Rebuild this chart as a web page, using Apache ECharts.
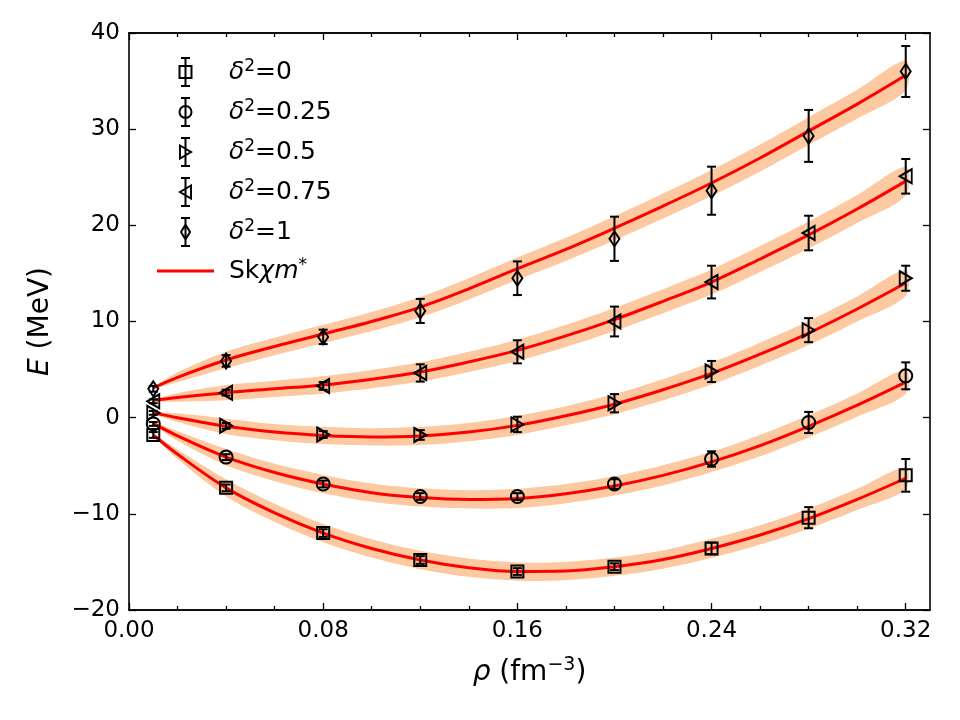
<!DOCTYPE html>
<html>
<head>
<meta charset="utf-8">
<script src="https://cdn.jsdelivr.net/npm/echarts@6/dist/echarts.min.js"></script>
<style>
  html, body { margin: 0; padding: 0; background: #fff; }
  #chart { width: 960px; height: 720px; }
</style>
</head>
<body>
<div id="chart"></div>
<script>
// measured points (rho in fm^-3, E in MeV)
var rho = [0.01, 0.04, 0.08, 0.12, 0.16, 0.20, 0.24, 0.28, 0.32];

var groupNames = ['δ²=0', 'δ²=0.25', 'δ²=0.5', 'δ²=0.75', 'δ²=1'];

var E_d0 = [-1.8, -7.3, -12.0, -14.8, -16.0, -15.5, -13.6, -10.4, -6.0];
var err_d0 = [0.3, 0.35, 0.4, 0.4, 0.35, 0.35, 0.6, 1.1, 1.7];

var E_d25 = [-0.65, -4.1, -6.9, -8.2, -8.2, -6.9, -4.3, -0.5, 4.35];
var err_d25 = [0.2, 0.3, 0.35, 0.35, 0.35, 0.5, 0.8, 1.1, 1.4];

var E_d50 = [0.5, -0.85, -1.75, -1.8, -0.7, 1.5, 4.8, 9.1, 14.5];
var err_d50 = [0.2, 0.3, 0.35, 0.5, 0.8, 0.95, 1.1, 1.25, 1.3];

var E_d75 = [1.7, 2.6, 3.3, 4.65, 6.85, 10.0, 14.1, 19.2, 25.1];
var err_d75 = [0.2, 0.3, 0.4, 0.9, 1.2, 1.55, 1.7, 1.8, 1.8];

var E_d100 = [3.0, 5.9, 8.4, 11.1, 14.5, 18.6, 23.6, 29.3, 36.0];
var err_d100 = [0.3, 0.6, 0.75, 1.25, 1.75, 2.3, 2.5, 2.7, 2.65];

// Skχm* curves with their uncertainty band (half width)
var fitRho = [0.01, 0.02, 0.04, 0.06, 0.08, 0.10, 0.12, 0.14, 0.16, 0.18, 0.20, 0.22, 0.24, 0.26, 0.28, 0.30, 0.32];

var fit_d0 = [-1.8, -3.8, -7.3, -9.9, -12.0, -13.6, -14.8, -15.6, -16.0, -15.95, -15.5, -14.75, -13.6, -12.2, -10.5, -8.5, -6.3];
var fit_d25 = [-0.6, -1.9, -4.1, -5.7, -6.9, -7.8, -8.3, -8.5, -8.4, -7.9, -7.1, -6.0, -4.6, -2.9, -0.9, 1.3, 3.7];
var fit_d50 = [0.5, 0.0, -0.9, -1.5, -1.85, -2.0, -1.9, -1.5, -0.8, 0.2, 1.4, 2.9, 4.6, 6.6, 8.8, 11.3, 14.0];
var fit_d75 = [1.8, 2.1, 2.6, 3.0, 3.4, 4.0, 4.75, 5.8, 7.0, 8.5, 10.2, 12.1, 14.1, 16.5, 19.0, 21.7, 24.6];
var fit_d100 = [3.1, 4.2, 6.0, 7.4, 8.7, 10.0, 11.5, 13.4, 15.5, 17.5, 19.7, 22.0, 24.4, 27.0, 29.8, 32.6, 35.6];

var band_d0 = [0.1, 0.5, 0.9, 0.95, 0.95, 0.95, 0.95, 0.95, 0.95, 0.95, 0.95, 0.95, 1.0, 1.0, 1.05, 1.1, 1.15];
var band_d25 = [0.1, 0.5, 0.85, 0.9, 0.95, 0.95, 0.95, 0.95, 1.0, 1.0, 1.0, 1.05, 1.05, 1.1, 1.15, 1.2, 1.25];
var band_d50 = [0.1, 0.45, 0.8, 0.85, 0.9, 0.9, 0.95, 0.95, 1.0, 1.0, 1.05, 1.1, 1.15, 1.2, 1.25, 1.3, 1.35];
var band_d75 = [0.1, 0.45, 0.8, 0.85, 0.9, 0.95, 1.0, 1.05, 1.1, 1.15, 1.2, 1.25, 1.3, 1.35, 1.4, 1.45, 1.5];
var band_d100 = [0.1, 0.5, 0.85, 0.9, 0.95, 1.0, 1.05, 1.1, 1.15, 1.2, 1.25, 1.3, 1.35, 1.4, 1.45, 1.5, 1.55];

var xMajor = [0, 0.08, 0.16, 0.24, 0.32];
var xMinor = [0.02, 0.04, 0.06, 0.10, 0.12, 0.14, 0.18, 0.20, 0.22, 0.26, 0.28, 0.30];

var fitName = 'Skχm*';
var FONT = 'DejaVu Sans';

var pointSets = [
    { E: E_d0, err: err_d0, fit: fit_d0, band: band_d0 },
    { E: E_d25, err: err_d25, fit: fit_d25, band: band_d25 },
    { E: E_d50, err: err_d50, fit: fit_d50, band: band_d50 },
    { E: E_d75, err: err_d75, fit: fit_d75, band: band_d75 },
    { E: E_d100, err: err_d100, fit: fit_d100, band: band_d100 }
];

var markerSymbols = [
    { symbol: 'rect', size: 12 },
    { symbol: 'circle', size: 13 },
    { symbol: 'path://M0,0L10,6L0,12Z', size: [12, 14] },
    { symbol: 'path://M10,0L0,6L10,12Z', size: [12, 14] },
    { symbol: 'diamond', size: [10, 15] }
];

// legend icons: marker + errorbar
var bar = ' M6,0V28 M1.5,0H10.5 M1.5,28H10.5';
var legendIcons = [
    'path://M0,8H12V20H0Z' + bar,
    'path://M0,14A6,6 0 1 1 12,14A6,6 0 1 1 0,14Z' + bar,
    'path://M0.5,7.5L11.5,14L0.5,20.5Z' + bar,
    'path://M11.5,7.5L0.5,14L11.5,20.5Z' + bar,
    'path://M6,6.5L10.5,14L6,21.5L1.5,14Z' + bar
];

var BAND_COLOR = '#fcc9a1';
var LINE_COLOR = '#ff0000';

function pairs(xs, ys) {
    return xs.map(function (x, i) { return [x, ys[i]]; });
}

function errorBarRender(params, api) {
    var x = api.value(0);
    var y = api.value(1);
    var e = api.value(2);
    var top = api.coord([x, y + e]);
    var bot = api.coord([x, y - e]);
    var cap = 4.5;
    var style = { stroke: '#000', lineWidth: 2 };
    return {
        type: 'group',
        children: [
            { type: 'line', shape: { x1: top[0], y1: top[1], x2: bot[0], y2: bot[1] }, style: style },
            { type: 'line', shape: { x1: top[0] - cap, y1: top[1], x2: top[0] + cap, y2: top[1] }, style: style },
            { type: 'line', shape: { x1: bot[0] - cap, y1: bot[1], x2: bot[0] + cap, y2: bot[1] }, style: style }
        ]
    };
}

function bandRender(s) {
    return function (params, api) {
        var upper = [];
        var lower = [];
        for (var i = 0; i < fitRho.length; i++) {
            upper.push(api.coord([fitRho[i], s.fit[i] + s.band[i]]));
            lower.push(api.coord([fitRho[i], s.fit[i] - s.band[i]]));
        }
        return {
            type: 'polygon',
            shape: { points: upper.concat(lower.reverse()), smooth: 0.3 },
            style: { fill: BAND_COLOR, stroke: null }
        };
    };
}

var series = [];

// bands
pointSets.forEach(function (s, k) {
    series.push({
        name: 'band' + k,
        type: 'custom',
        renderItem: bandRender(s),
        data: [[fitRho[0], s.fit[0]]],
        silent: true,
        z: 1
    });
});

// fit curves
pointSets.forEach(function (s) {
    series.push({
        name: fitName,
        type: 'line',
        data: pairs(fitRho, s.fit),
        smooth: 0.35,
        symbol: 'none',
        itemStyle: { color: LINE_COLOR },
        lineStyle: { color: LINE_COLOR, width: 3 },
        z: 2
    });
});

// error bars + markers
pointSets.forEach(function (s, k) {
    series.push({
        name: 'err' + k,
        type: 'custom',
        renderItem: errorBarRender,
        data: rho.map(function (x, i) { return [x, s.E[i], s.err[i]]; }),
        encode: { x: 0, y: 1 },
        z: 3
    });
    series.push({
        name: groupNames[k],
        type: 'scatter',
        data: pairs(rho, s.E),
        symbol: markerSymbols[k].symbol,
        symbolSize: markerSymbols[k].size,
        itemStyle: { color: 'rgba(0,0,0,0)', borderColor: '#000', borderWidth: 2, opacity: 1 },
        z: 4
    });
});

var legendData = groupNames.map(function (n, k) {
    return {
        name: n,
        icon: legendIcons[k],
        itemStyle: { color: 'rgba(0,0,0,0)', borderColor: '#000', borderWidth: 2, opacity: 1 }
    };
});
legendData.push({
    name: fitName,
    icon: 'path://M0,0H57V3H0Z',
    itemStyle: { color: LINE_COLOR, borderWidth: 0, opacity: 1 }
});

function xAxisPart(position, values, len, labels) {
    return {
        type: 'value',
        position: position,
        min: 0,
        max: 0.33,
        axisLine: { show: true, onZero: false, lineStyle: { color: '#000', width: 1.6 } },
        axisTick: { show: true, inside: true, length: len, customValues: values, lineStyle: { color: '#000', width: 1.3 } },
        axisLabel: labels ? {
            show: true,
            customValues: xMajor,
            margin: 10,
            color: '#000',
            fontFamily: FONT,
            fontSize: 23,
            formatter: function (v) { return v.toFixed(2); }
        } : { show: false },
        splitLine: { show: false },
        name: labels ? '{i|ρ} {n|(fm}{s|−3}{n|)}' : '',
        nameLocation: 'middle',
        nameGap: 46,
        nameTextStyle: {
            color: '#000',
            fontFamily: FONT,
            fontSize: 28,
            rich: {
                i: { fontStyle: 'italic', fontFamily: FONT, fontSize: 28, color: '#000', lineHeight: 34 },
                n: { fontFamily: FONT, fontSize: 28, color: '#000', lineHeight: 34 },
                s: { fontFamily: FONT, fontSize: 19, color: '#000', verticalAlign: 'top', lineHeight: 22 }
            }
        }
    };
}

var option = {
    backgroundColor: '#fff',
    animation: false,
    grid: { left: 129, right: 30, top: 33, bottom: 110, containLabel: false },
    legend: {
        orient: 'vertical',
        left: 152,
        top: 52,
        itemWidth: 57,
        itemHeight: 28,
        itemGap: 10,
        data: legendData,
        textStyle: {
            color: '#000',
            fontFamily: FONT,
            fontSize: 25,
            padding: [0, 0, 0, 10],
            rich: {
                i: { fontStyle: 'italic', fontFamily: FONT, fontSize: 25, color: '#000', lineHeight: 28 },
                n: { fontFamily: FONT, fontSize: 25, color: '#000', lineHeight: 28 },
                s: { fontFamily: FONT, fontSize: 17, color: '#000', verticalAlign: 'top', lineHeight: 18 }
            }
        },
        formatter: function (name) {
            if (name === fitName) return '{n|Sk}{i|χm}{s|*}';
            return '{i|δ}{s|2}{n|' + name.slice(2) + '}';
        }
    },
    xAxis: [
        xAxisPart('bottom', xMajor, 7, true),
        xAxisPart('bottom', xMinor, 4, false),
        xAxisPart('top', xMajor, 7, false),
        xAxisPart('top', xMinor, 4, false)
    ],
    yAxis: [{
        type: 'value',
        position: 'left',
        min: -20,
        max: 40,
        interval: 10,
        axisLine: { show: true, onZero: false, lineStyle: { color: '#000', width: 1.6 } },
        axisTick: { show: true, inside: true, length: 7, lineStyle: { color: '#000', width: 1.3 } },
        axisLabel: {
            color: '#000',
            fontFamily: FONT,
            fontSize: 23,
            margin: 9,
            formatter: function (v) { return String(v).replace('-', '\u2212'); }
        },
        splitLine: { show: false },
        name: '{i|E} (MeV)',
        nameLocation: 'middle',
        nameGap: 74,
        nameTextStyle: {
            color: '#000',
            fontFamily: FONT,
            fontSize: 28,
            rich: { i: { fontStyle: 'italic', fontFamily: FONT, fontSize: 28, color: '#000' } }
        }
    }, {
        type: 'value',
        position: 'right',
        min: -20,
        max: 40,
        interval: 10,
        axisLine: { show: true, onZero: false, lineStyle: { color: '#000', width: 1.6 } },
        axisTick: { show: true, inside: true, length: 7, lineStyle: { color: '#000', width: 1.3 } },
        axisLabel: { show: false },
        splitLine: { show: false }
    }],
    series: series
};

var myChart = echarts.init(document.getElementById('chart'), null, { renderer: 'canvas' });
myChart.setOption(option);
</script>
</body>
</html>
